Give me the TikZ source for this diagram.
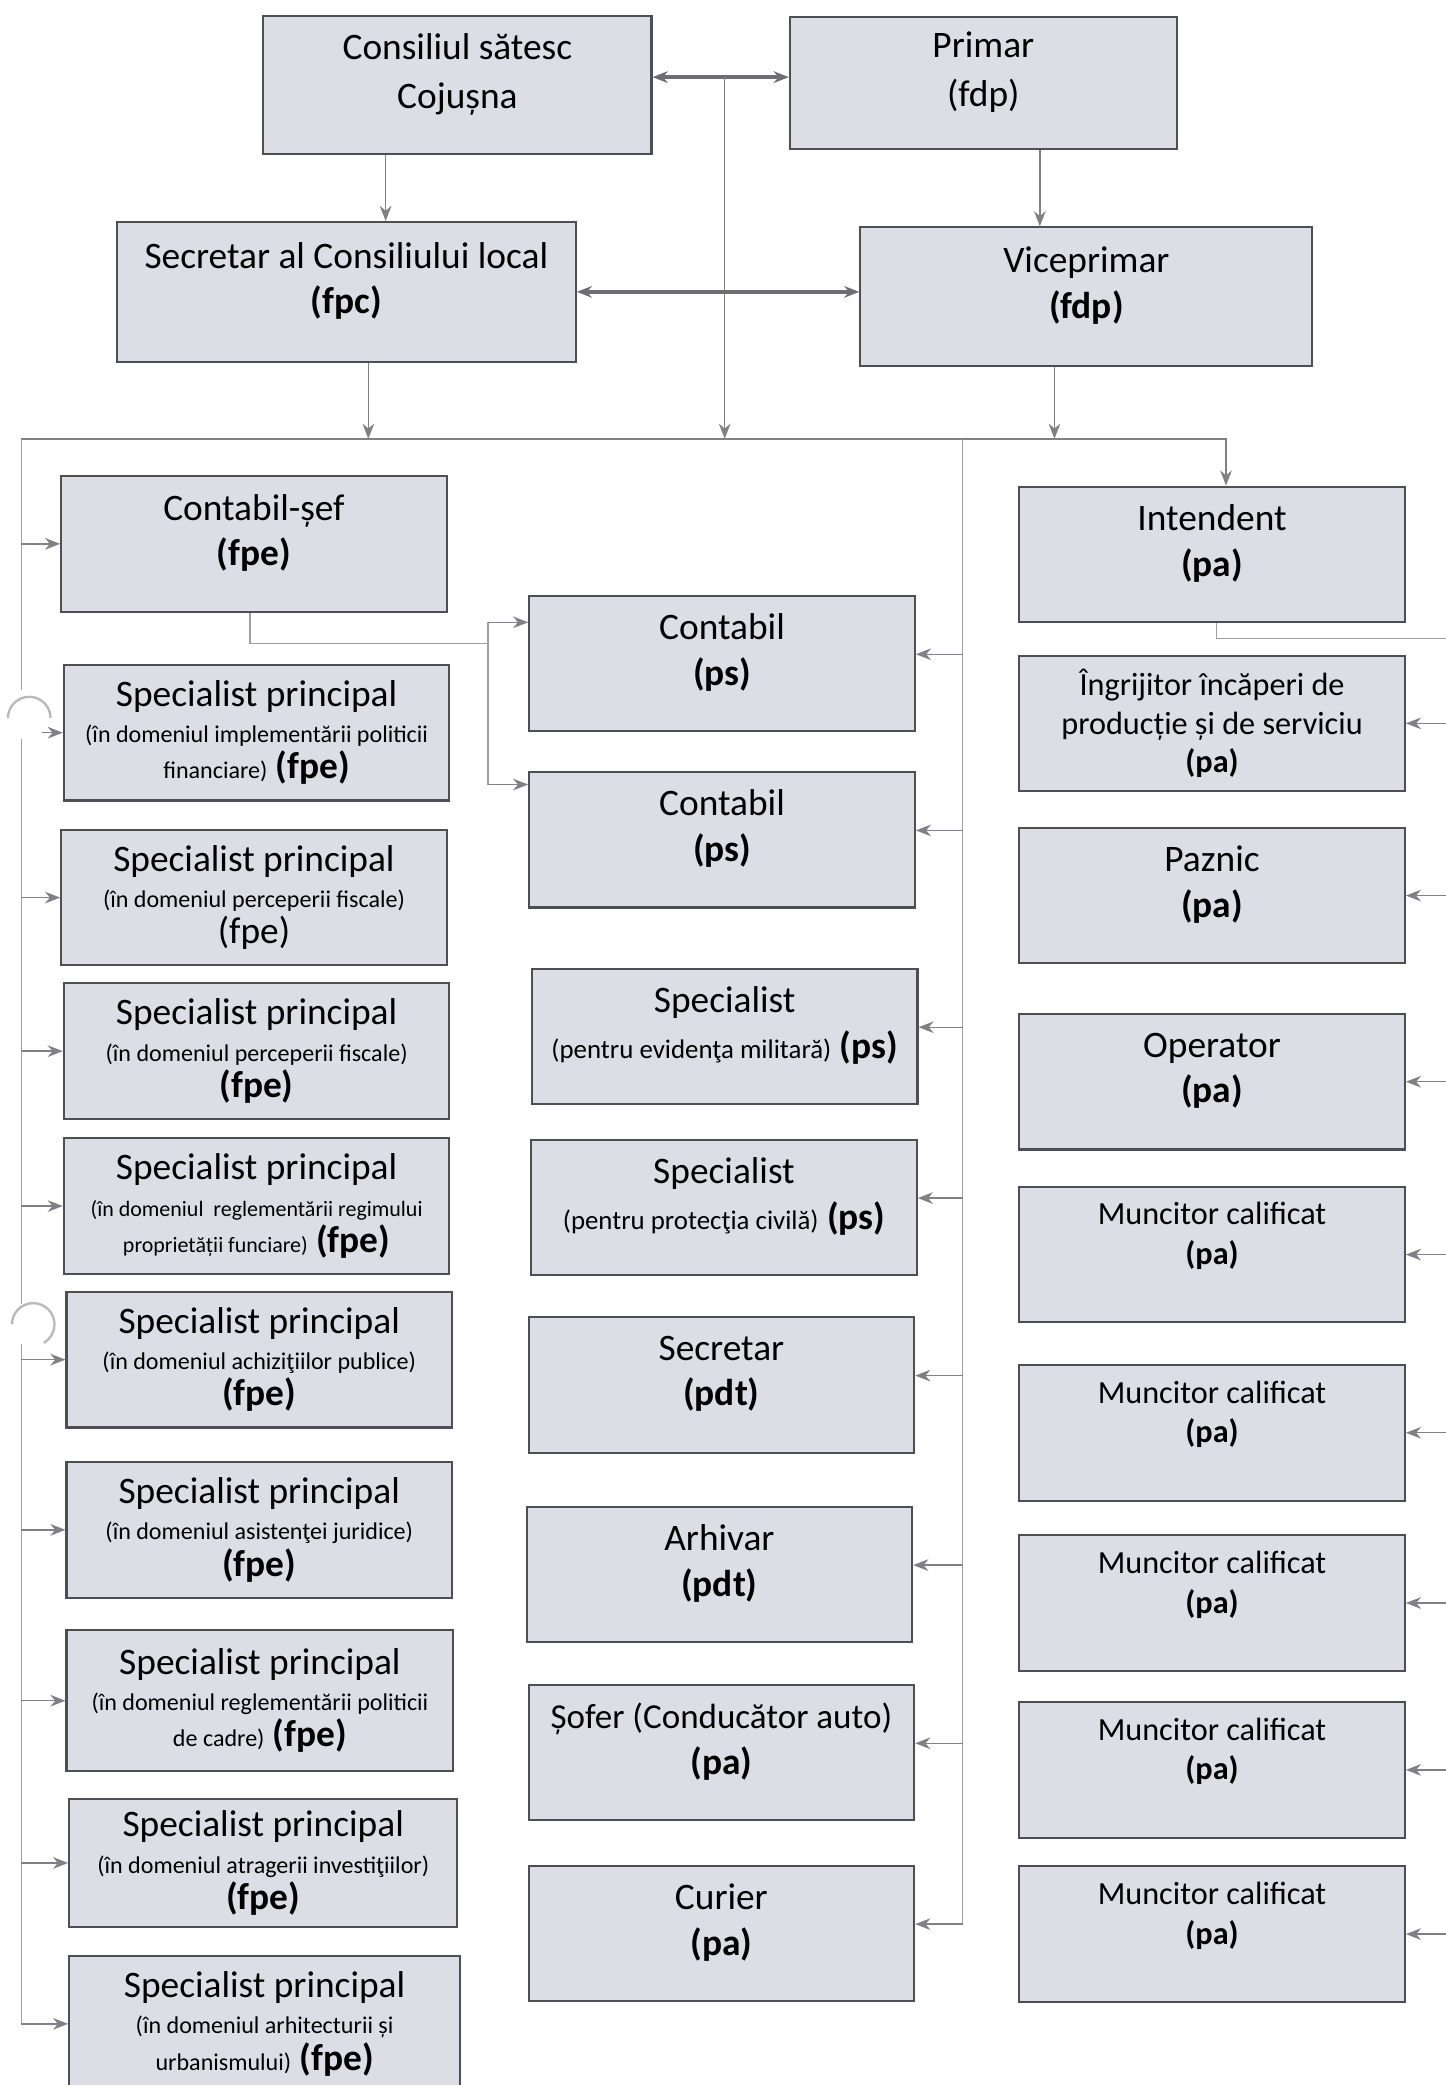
\documentclass[tikz,border=0pt]{standalone}
\usepackage{fontspec}
\setmainfont{Carlito}
\usetikzlibrary{positioning, arrows, arrows.meta}
\definecolor{boxfill}{RGB}{221,221,230}
\definecolor{boxline}{RGB}{78,78,84}
\definecolor{linkgray}{RGB}{128,128,134}
\newcommand{\mic}{\fontsize{10.3}{12}\selectfont}
\newcommand{\mediu}{\fontsize{11.5}{12}\selectfont}
\tikzset{
    >={Stealth[length=6.5pt, width=5pt]}, % grey filled heads, as in the scan
    caseta/.style={draw=boxline, fill=boxfill, line width=0.9pt, align=center,
        minimum width=5.8cm, minimum height=2.04cm, inner sep=1pt}, % every box of the chart
    post/.style={caseta, text depth=12pt, font=\fontsize{16}{19.5}\selectfont}, % two lines, a bit high
    sageata/.style={->, draw=linkgray, line width=0.6pt}, % thin arrow
    dublu/.style={<->, draw=linkgray!85!black, line width=1.4pt}, % thick double arrow
    linie/.style={draw=linkgray!75, line width=0.5pt}, % lines without heads
}

\begin{document}
\begin{tikzpicture}[
                                x=0.02cm, y=-0.02cm,
                                sp/.style={caseta, font=\fontsize{16}{15.5}\selectfont},
                                pa/.style={caseta, text depth=18pt, font=\fontsize{13.8}{17}\selectfont},
                            ]
                            \useasboundingbox (0,0) rectangle (1087,1568);
                            % conducerea
                            \node[post, minimum width=5.84cm, minimum height=2.08cm, font=\fontsize{16}{21}\selectfont] (consiliu) at (344,64) {Consiliul sătesc\\Cojușna};
                            \node[post, minimum width=5.82cm, minimum height=1.98cm, font=\fontsize{16}{21}\selectfont] (primar) at (739.5,62.5) {Primar\\(fdp)};
                            \node[post, minimum width=6.9cm, minimum height=2.1cm] (secretar) at (260.5,219.5) {Secretar al Consiliului local\\\textbf{(fpc)}};
                            \node[post, minimum width=6.8cm, minimum height=2.08cm] (viceprimar) at (817,223) {Viceprimar\\\textbf{(fdp)}};

                            % coloana din stanga
                            \node[post] (contabilsef) at (191,409) {Contabil-șef\\\textbf{(fpe)}};
                            \node[sp] (spec1) at (193,551) {Specialist principal\\{\mic (în domeniul implementării politicii}\\{\mic financiare)} \textbf{(fpe)}};
                            \node[sp] (spec2) at (191,675) {Specialist principal\\{\mic (în domeniul perceperii fiscale)}\\(fpe)};
                            \node[sp] (spec3) at (193,790.5) {Specialist principal\\{\mic (în domeniul perceperii fiscale)}\\\textbf{(fpe)}};
                            \node[sp] (spec4) at (193,907) {Specialist principal\\{\fontsize{9.4}{12}\selectfont (în domeniul\ \ reglementării regimului}\\{\fontsize{9.4}{12}\selectfont proprietății funciare)} \textbf{(fpe)}};
                            \node[sp] (spec5) at (195,1022.5) {Specialist principal\\{\mic (în domeniul achiziţiilor publice)}\\\textbf{(fpe)}};
                            \node[sp] (spec6) at (195,1150.5) {Specialist principal\\{\mic (în domeniul asistenţei juridice)}\\\textbf{(fpe)}};
                            \node[sp, minimum width=5.82cm, minimum height=2.12cm] (spec7) at (195.5,1279) {Specialist principal\\{\mic (în domeniul reglementării politicii}\\{\mic de cadre)} \textbf{(fpe)}};
                            \node[sp, minimum width=5.84cm, minimum height=1.92cm] (spec8) at (198,1401) {Specialist principal\\{\mic (în domeniul atragerii investiţiilor)}\\\textbf{(fpe)}};
                            \node[sp, minimum width=5.88cm] (spec9) at (199,1522) {Specialist principal\\{\mic (în domeniul arhitecturii și}\\{\mic urbanismului)} \textbf{(fpe)}};

                            % coloana din mijloc
                            \node[post] (contabil1) at (543,499) {Contabil\\\textbf{(ps)}};
                            \node[post] (contabil2) at (543,631.5) {Contabil\\\textbf{(ps)}};
                            \node[post] (specialist1) at (545,779.5) {Specialist\\{\mediu (pentru evidenţa militară)} \textbf{(ps)}};
                            \node[post] (specialist2) at (544.5,908) {Specialist\\{\mediu (pentru protecţia civilă)} \textbf{(ps)}};
                            \node[post] (secretarul) at (542.5,1041.5) {Secretar\\\textbf{(pdt)}};
                            \node[post] (arhivar) at (541,1184) {Arhivar\\\textbf{(pdt)}};
                            \node[post] (sofer) at (542.5,1318) {{\fontsize{15}{19.5}\selectfont Șofer (Conducător auto)}\\\textbf{(pa)}};
                            \node[post] (curier) at (542.5,1454) {Curier\\\textbf{(pa)}};

                            % coloana din dreapta
                            \node[post] (intendent) at (911.5,417) {Intendent\\\textbf{(pa)}};
                            \node[caseta, font=\fontsize{13.8}{16.5}\selectfont] (ingrijitor) at (911.5,544) {Îngrijitor încăperi de\\producție și de serviciu\\\textbf{(pa)}};
                            \node[post] (paznic) at (911.5,673.5) {Paznic\\\textbf{(pa)}};
                            \node[post] (operator) at (911.5,813.5) {Operator\\\textbf{(pa)}};
                            \node[pa] (muncitor1) at (911.5,943.5) {Muncitor calificat\\\textbf{(pa)}};
                            \node[pa] (muncitor2) at (911.5,1077.5) {Muncitor calificat\\\textbf{(pa)}};
                            \node[pa] (muncitor3) at (911.5,1205.5) {Muncitor calificat\\\textbf{(pa)}};
                            \node[pa] (muncitor4) at (911.5,1331) {Muncitor calificat\\\textbf{(pa)}};
                            \node[pa] (muncitor5) at (911.5,1454.5) {Muncitor calificat\\\textbf{(pa)}};

                            % puncte de legatura
                            \coordinate (mijloc) at (545,58);
                            \coordinate (busL) at (16,330);
                            \coordinate (busM) at (724,330);
                            \coordinate (dreapta) at (1094,480);
                            \coordinate (jos1) at ([xshift=-1.08cm]consiliu.south);
                            \coordinate (jos2) at ([xshift=0.85cm]primar.south);
                            \coordinate (jos3) at ([xshift=0.33cm]secretar.south);
                            \coordinate (jos4) at ([xshift=-0.48cm]viceprimar.south);
                            \coordinate (ram) at (367,484);
                            \coordinate (ramsus) at (367,468);
                            \coordinate (ramjos) at (367,590);
                            \coordinate (hopA1) at (16,519);
                            \coordinate (hopA2) at (16,556);
                            \coordinate (hopB1) at (16,981);
                            \coordinate (hopB2) at (16,1011);

                            % legaturi de sus
                            \draw[dublu] (consiliu.east |- mijloc) -- (primar.west |- mijloc);
                            \draw[sageata] (mijloc) -- (mijloc |- busL);
                            \draw[sageata] (jos1) -- (jos1 |- secretar.north);
                            \draw[sageata] (jos2) -- (jos2 |- viceprimar.north);
                            \draw[dublu] (secretar.east) -- (secretar.east -| viceprimar.west);
                            \draw[sageata] (jos3) -- (jos3 |- busL);
                            \draw[sageata] (jos4) -- (jos4 |- busL);
                            \draw[sageata] (busL) -| ([xshift=0.21cm]intendent.north);

                            % stanga
                            \draw[linie] (busL) -- (hopA1) (hopA2) -- (hopB1) (hopB2) -- (busL |- spec9.west);
                            \draw[linie, line width=1pt, draw=linkgray!55] (6,540) arc[start angle=180, end angle=0, radius=0.32cm];
                            \draw[linie, line width=1pt, draw=linkgray!55] (9,996) arc[start angle=180, end angle=-60, radius=0.32cm];
                            \foreach \n in {contabilsef, spec2, spec3, spec4, spec5, spec6, spec7, spec8, spec9}
                                \draw[sageata] (busL |- \n.west) -- (\n.west);
                            \draw[sageata] ([xshift=-0.32cm]spec1.west) -- (spec1.west);
                            \draw[linie] ([xshift=-0.06cm]contabilsef.south) |- (ram);
                            \draw[linie] (ramsus) -- (ramjos);
                            \draw[sageata] (ramsus) -- (ramsus -| contabil1.west);
                            \draw[sageata] (ramjos) -- (ramjos -| contabil2.west);

                            % mijloc
                            \draw[linie] (busM) -- ([yshift=0.14cm]busM |- curier.east);
                            \foreach \n in {contabil1, contabil2, specialist1, specialist2, secretarul, arhivar, sofer, curier}{
                                \coordinate (t) at ([yshift=0.14cm]\n.east);
                                \draw[sageata] (busM |- t) -- (t);
                            }

                            % dreapta
                            \draw[linie] ([xshift=0.07cm]intendent.south) |- (dreapta);
                            \draw[linie] (dreapta) -- (dreapta |- muncitor5.east);
                            \foreach \n in {ingrijitor, paznic, operator, muncitor1, muncitor2, muncitor3, muncitor4, muncitor5}
                                \draw[sageata] (dreapta |- \n.east) -- (\n.east);
                        \end{tikzpicture}
\end{document}
